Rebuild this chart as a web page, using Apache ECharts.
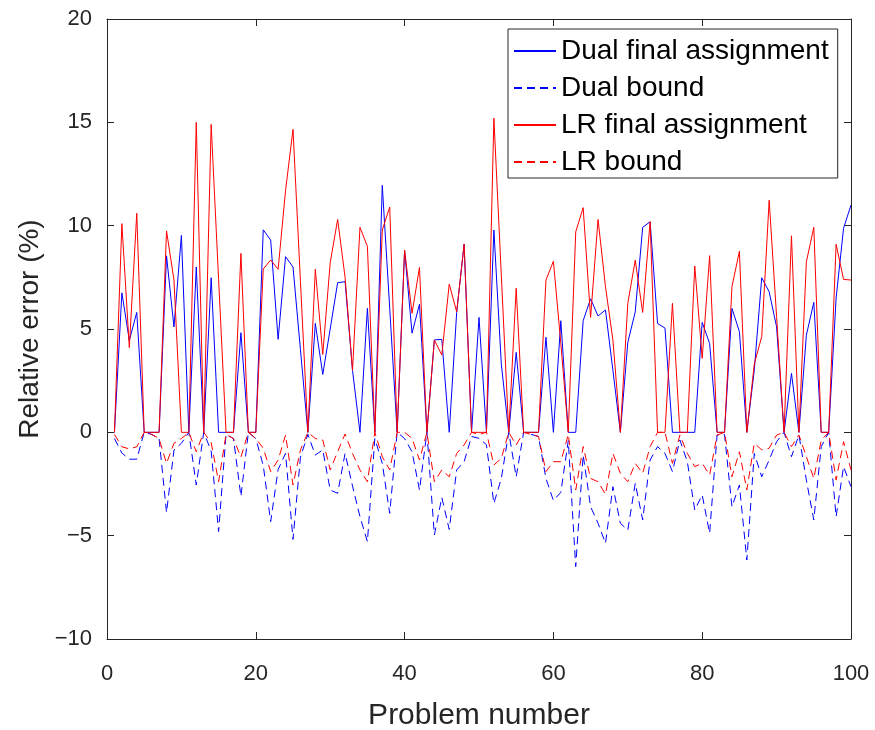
<!DOCTYPE html>
<html>
<head>
<meta charset="utf-8">
<script src="https://cdn.jsdelivr.net/npm/echarts@6/dist/echarts.min.js"></script>
<style>
html,body{margin:0;padding:0;background:#fff;}
#chart{width:875px;height:730px;}
</style>
</head>
<body>
<div id="chart"></div>
<script>
// Problem numbers 1..100
var problems = [];
for (var k = 1; k <= 100; k++) problems.push(k);

var dualFinal = [0,6.75,4.45,5.8,0,0,0,8.54,5.1,9.53,
0,8.0,0,7.48,0,0,0,4.82,0,0,
9.8,9.3,4.5,8.5,8.0,4.0,0,5.27,2.8,5.0,
7.24,7.29,3.0,0,6.0,0,11.95,6.0,0,8.8,
4.8,6.2,0,4.47,4.5,0,5.8,9.1,0,5.56,
0,9.79,3.3,0,3.87,0,0,0,4.6,0,
5.4,0,0,5.4,6.46,5.63,5.92,3.0,0,4.35,
5.83,9.92,10.19,5.27,5.04,0,0,0,0,5.32,
4.3,0,0,6.0,4.87,0,3.0,7.48,6.8,5.1,
0,2.85,0,4.7,6.29,0,0,6.5,9.87,11.0];

var dualBound = [-0.3,-1.0,-1.3,-1.3,0,-0.1,-0.3,-3.88,-0.86,-0.53,
0,-2.55,0,-0.9,-4.8,-0.1,-0.3,-3.1,0,-0.3,
-1.6,-4.32,-1.8,-1.02,-5.18,-1.2,-0.1,-1.1,-0.85,-2.79,
-2.95,-1.02,-2.6,-4.08,-5.29,-0.3,-1.5,-3.92,0,-0.3,
-0.94,-2.79,0,-4.97,-3.15,-4.7,-1.82,-1.42,-0.2,-0.29,
-0.6,-3.44,-2.23,0,-2.15,0,-0.1,-0.2,-2.23,-3.3,
-2.9,-0.4,-6.5,-1.1,-3.6,-4.4,-5.37,-2.63,-4.4,-4.73,
-2.47,-4.24,-1.34,-0.69,-1.02,-1.9,-0.37,-1.42,-3.76,-3.03,
-4.88,-0.13,-0.1,-3.6,-2.55,-6.18,-1.02,-2.15,-1.34,-0.45,
0,-1.18,-0.13,-2.31,-4.24,-0.69,0,-4.08,-1.66,-2.63];

var lrFinal = [0,10.1,4.1,10.6,0,0,0,9.75,7.37,0,
0,15.0,0,14.9,7.4,0,0,8.66,0,0,
7.9,8.34,7.89,11.7,14.66,7.3,0,7.89,3.77,8.2,
10.3,7.5,3.0,9.92,9.0,0,9.79,10.9,0,8.82,
5.76,7.98,0,4.47,3.74,7.17,5.83,9.1,0,0,
0,15.2,7.6,0,6.97,0,0,0,7.37,8.28,
4.3,0,9.7,10.87,5.56,10.3,7.05,4.47,0,6.24,
8.33,5.8,10.19,0,0,6.24,0,0,8.05,3.58,
8.55,0,0,7.05,8.76,0,3.3,4.63,11.23,5.6,
0,9.51,0,8.25,9.92,0,0,9.1,7.4,7.37];

var lrBound = [-0.1,-0.7,-0.8,-0.7,0,-0.1,-0.3,-1.5,-0.53,-0.3,
0,-0.94,0,-0.5,-2.39,-0.1,-0.3,-1.2,0,-0.3,
-0.77,-1.9,-1.34,-0.13,-2.55,-0.85,0,-0.3,-0.37,-1.82,
-0.94,-0.08,-1.02,-1.82,-2.39,0,-1.18,-1.82,0,0,
-0.29,-1.34,0,-2.39,-1.82,-2.15,-1.02,-0.61,0,-0.1,
0,-1.58,-1.26,0,-0.61,0,-0.1,-0.2,-1.9,-1.42,
-1.42,-0.1,-2.79,-0.69,-2.23,-2.39,-3.0,-1.02,-1.98,-2.39,
-1.5,-1.98,-0.69,0,0,-1.5,-0.13,-1.02,-1.66,-1.5,
-2.06,-0.13,0,-2.15,-0.94,-2.79,-0.53,-0.85,-0.77,-0.13,
0,-0.69,-0.13,-1.18,-2.23,-0.37,0,-2.31,-0.45,-1.82];

var seriesNames = ['Dual final assignment','Dual bound','LR final assignment','LR bound'];
var xTicks = [0,20,40,60,80,100];
var yTicks = [-10,-5,0,5,10,15,20];

function pairs(vals){ return problems.map(function(p,i){ return [p, vals[i]]; }); }

var FONT = '"Liberation Sans", Arial, Helvetica, sans-serif';
var AX = '#262626';

function axisCommon(extra){
  var o = {
    type:'value',
    axisLine:{show:true, onZero:false, lineStyle:{color:AX, width:1}},
    axisTick:{show:true, inside:true, length:7, lineStyle:{color:AX}},
    splitLine:{show:false},
    axisLabel:{color:AX, fontSize:22, fontFamily:FONT}
  };
  for (var k in extra) o[k] = extra[k];
  return o;
}

var chart = echarts.init(document.getElementById('chart'), null, {renderer:'canvas'});
chart.setOption({
  animation:false,
  backgroundColor:'#fff',
  grid:{left:107, right:24, top:19, bottom:91, containLabel:false, outerBoundsMode:'none'},
  xAxis:[
    axisCommon({min:xTicks[0], max:xTicks[xTicks.length-1], interval:20, position:'bottom',
      axisLabel:{color:AX, fontSize:22, fontFamily:FONT, margin:24},
      name:'Problem number', nameLocation:'middle', nameGap:62,
      nameTextStyle:{color:AX, fontSize:30, fontFamily:FONT}}),
    axisCommon({min:xTicks[0], max:xTicks[xTicks.length-1], interval:20, position:'top',
      axisLabel:{show:false}})
  ],
  yAxis:[
    axisCommon({min:yTicks[0], max:yTicks[yTicks.length-1], interval:5, position:'left',
      axisLabel:{color:AX, fontSize:22, fontFamily:FONT, margin:15,
        formatter:function(v){ return String(v).replace('-', '\u2212'); }},
      name:'Relative error (%)', nameLocation:'middle', nameGap:63,
      nameTextStyle:{color:AX, fontSize:28, fontFamily:FONT}}),
    axisCommon({min:yTicks[0], max:yTicks[yTicks.length-1], interval:5, position:'right',
      axisLabel:{show:false}})
  ],
  legend:{
    orient:'vertical', left:508, top:29,
    data:seriesNames,
    backgroundColor:'#fff', borderColor:AX, borderWidth:1,
    padding:[8,9,2,5],
    itemWidth:42, itemHeight:14, itemGap:9, itemTextGap:7,
    itemStyle:{opacity:0},
    textStyle:{color:'#000', fontSize:28, fontFamily:FONT, lineHeight:28}
  },
  series:[
    {name:seriesNames[0], type:'line', data:pairs(dualFinal), symbol:'none', showSymbol:false,
      lineStyle:{color:'#0000ff', width:1}, itemStyle:{color:'#0000ff'}},
    {name:seriesNames[1], type:'line', data:pairs(dualBound), symbol:'none', showSymbol:false,
      lineStyle:{color:'#0000ff', width:1, type:[8,5]}, itemStyle:{color:'#0000ff'}},
    {name:seriesNames[2], type:'line', data:pairs(lrFinal), symbol:'none', showSymbol:false,
      lineStyle:{color:'#ff0000', width:1}, itemStyle:{color:'#ff0000'}},
    {name:seriesNames[3], type:'line', data:pairs(lrBound), symbol:'none', showSymbol:false,
      lineStyle:{color:'#ff0000', width:1, type:[8,5]}, itemStyle:{color:'#ff0000'}}
  ]
});
</script>
</body>
</html>
